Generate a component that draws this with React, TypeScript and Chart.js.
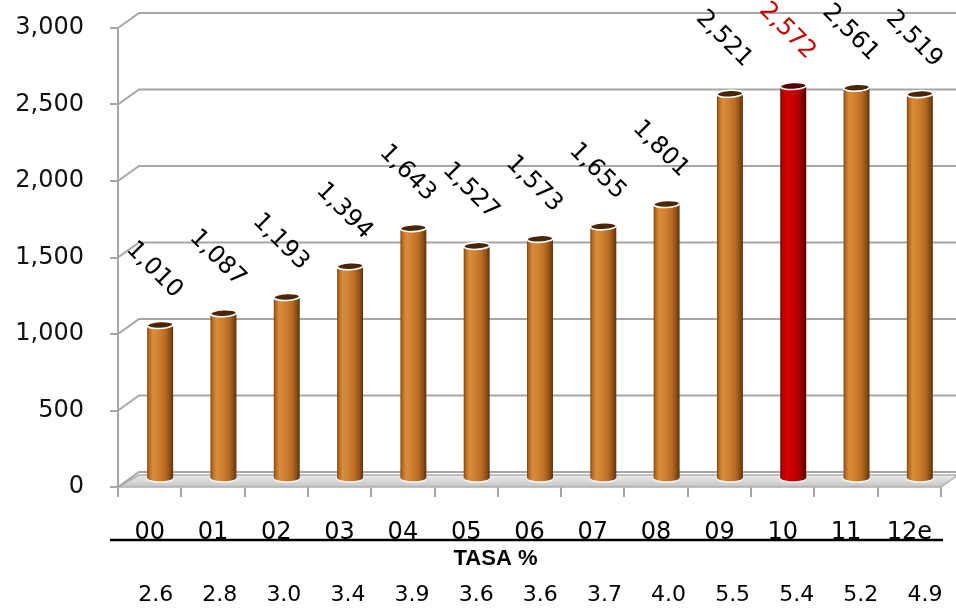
import { useEffect, useRef } from "react";
import { Chart, registerables } from "chart.js";

Chart.register(...registerables);

const categories = ["00", "01", "02", "03", "04", "05", "06", "07", "08", "09", "10", "11", "12e"];
const values = [1010, 1087, 1193, 1394, 1643, 1527, 1573, 1655, 1801, 2521, 2572, 2561, 2519];
const rates = ["2.6", "2.8", "3.0", "3.4", "3.9", "3.6", "3.6", "3.7", "4.0", "5.5", "5.4", "5.2", "4.9"];
const yMin = 0;
const yMax = 3000;
const yStep = 500;
const highlightCategory = "10";
const rateTitle = "TASA %";

const FONT = "'DejaVu Sans', sans-serif";
const DX = 21;
const DY = -15;

function fmt(v: number) {
  return v.toLocaleString("en-US");
}

const threeD = {
  id: "threeD",
  beforeDatasetsDraw(chart: any) {
    const { ctx, chartArea: a } = chart;
    const y = chart.scales.y;
    ctx.save();
    // floor
    const fb = a.bottom;
    const g = ctx.createLinearGradient(0, fb + DY, 0, fb);
    g.addColorStop(0, "#f6f6f6");
    g.addColorStop(0.45, "#e0e0e0");
    g.addColorStop(1, "#c4c4c4");
    ctx.beginPath();
    ctx.moveTo(a.left, fb);
    ctx.lineTo(a.right, fb);
    ctx.lineTo(a.right + DX - 4, fb + DY + 3);
    ctx.lineTo(a.left + DX, fb + DY + 3);
    ctx.closePath();
    ctx.fillStyle = g;
    ctx.fill();
    ctx.strokeStyle = "#b0b0b0";
    ctx.lineWidth = 1.5;
    ctx.stroke();
    // back grid lines with diagonal connectors
    ctx.strokeStyle = "#a6a6a6";
    ctx.lineWidth = 2;
    y.ticks.forEach((t: any) => {
      const py = y.getPixelForValue(t.value);
      ctx.beginPath();
      ctx.moveTo(a.left, py);
      ctx.lineTo(a.left + DX, py + DY);
      ctx.lineTo(chart.width, py + DY);
      ctx.stroke();
    });
    ctx.restore();
  },
  afterDatasetsDraw(chart: any) {
    const { ctx } = chart;
    const meta = chart.getDatasetMeta(0);
    ctx.save();
    meta.data.forEach((el: any, i: number) => {
      const { x, y, base, width } = el.getProps(["x", "y", "base", "width"], true);
      const hi = categories[i] === highlightCategory;
      const cx = x + DX / 2;
      const top = y + DY / 2;
      const bottom = base + DY / 2;
      const rx = width / 2;
      const ry = 3.5;
      const g = ctx.createLinearGradient(cx - rx, 0, cx + rx, 0);
      if (hi) {
        g.addColorStop(0, "#780000");
        g.addColorStop(0.08, "#b00000");
        g.addColorStop(0.22, "#d40000");
        g.addColorStop(0.45, "#c80000");
        g.addColorStop(0.7, "#b40000");
        g.addColorStop(0.88, "#820000");
        g.addColorStop(1, "#4e0000");
      } else {
        g.addColorStop(0, "#7a4512");
        g.addColorStop(0.08, "#b86a22");
        g.addColorStop(0.22, "#d98c3c");
        g.addColorStop(0.45, "#cf7f30");
        g.addColorStop(0.7, "#b86b23");
        g.addColorStop(0.88, "#8a4e16");
        g.addColorStop(1, "#5a320c");
      }
      ctx.beginPath();
      ctx.moveTo(cx - rx, top);
      ctx.lineTo(cx - rx, bottom);
      ctx.ellipse(cx, bottom, rx, ry, 0, Math.PI, 0, true);
      ctx.lineTo(cx + rx, top);
      ctx.ellipse(cx, top, rx, ry, 0, 0, Math.PI, true);
      ctx.closePath();
      ctx.fillStyle = g;
      ctx.fill();
      // bottom rim
      ctx.beginPath();
      ctx.ellipse(cx, bottom, rx, ry, 0, Math.PI, 0, true);
      ctx.strokeStyle = "rgba(255,255,255,0.9)";
      ctx.lineWidth = 1.5;
      ctx.stroke();
      // top cap
      ctx.beginPath();
      ctx.ellipse(cx, top, rx, ry, -0.05, 0, Math.PI * 2);
      ctx.fillStyle = hi ? "#520000" : "#4a2608";
      ctx.fill();
      ctx.strokeStyle = "#ffffff";
      ctx.lineWidth = 1.6;
      ctx.stroke();
      // value label
      ctx.save();
      ctx.translate(cx - 6, top - 55);
      ctx.rotate(Math.PI / 4);
      ctx.font = `24px ${FONT}`;
      ctx.fillStyle = hi ? "#c00000" : "#000000";
      ctx.textAlign = "center";
      ctx.textBaseline = "middle";
      ctx.fillText(fmt(values[i]), 0, 0);
      ctx.restore();
    });
    ctx.restore();
  },
  afterDraw(chart: any) {
    const { ctx, chartArea: a } = chart;
    const x = chart.scales.x;
    ctx.save();
    ctx.strokeStyle = "#000";
    ctx.lineWidth = 2.5;
    ctx.beginPath();
    ctx.moveTo(a.left - 8, 540);
    ctx.lineTo(a.right + 2, 540);
    ctx.stroke();
    ctx.fillStyle = "#000";
    ctx.textAlign = "center";
    ctx.textBaseline = "middle";
    ctx.font = `bold 22px 'Liberation Sans', Arial, sans-serif`;
    ctx.fillText(rateTitle, (a.left + a.right) / 2 - 34, 559);
    ctx.font = `22px ${FONT}`;
    rates.forEach((r, i) => {
      ctx.fillText(r, x.getPixelForValue(i) + 6 + i * 0.8, 595);
    });
    ctx.restore();
  },
};

export default function App() {
  const ref = useRef<HTMLCanvasElement | null>(null);
  useEffect(() => {
    document.body.style.margin = "0";
    const canvas = ref.current;
    if (!canvas) return;
    const chart = new Chart(canvas, {
      type: "bar",
      data: {
        labels: categories,
        datasets: [
          {
            data: values,
            backgroundColor: "rgba(0,0,0,0)",
            borderWidth: 0,
            barPercentage: 0.41,
            categoryPercentage: 1,
          },
        ],
      },
      options: {
        responsive: false,
        animation: false,
        devicePixelRatio: 1,
        layout: { padding: { top: 28, right: 15, left: 0, bottom: 0 } },
        plugins: { legend: { display: false }, tooltip: { enabled: false } },
        scales: {
          x: {
            afterFit: (s: any) => {
              s.height = 124;
            },
            grid: {
              display: true,
              drawOnChartArea: false,
              tickLength: 10,
              color: "#a6a6a6",
              lineWidth: 2,
              offset: true,
            },
            border: { display: false },
            ticks: {
              padding: 21,
              color: "#000",
              font: { family: FONT, size: 24 },
              maxRotation: 0,
              autoSkip: false,
            },
          },
          y: {
            min: yMin,
            max: yMax,
            afterFit: (s: any) => {
              s.width = 118;
              s.paddingTop = 12;
              s.paddingBottom = 12;
            },
            grid: {
              display: true,
              drawOnChartArea: false,
              tickLength: 8,
              color: "#a6a6a6",
              lineWidth: 2,
            },
            border: { display: true, color: "#a6a6a6", width: 2 },
            ticks: {
              stepSize: yStep,
              padding: 26,
              color: "#111",
              font: { family: FONT, size: 24 },
              callback: (v: any) => fmt(Number(v)),
            },
          },
        },
      },
      plugins: [threeD],
    });
    return () => chart.destroy();
  }, []);
  return (
    <div style={{ width: 956, height: 611 }}>
      <canvas ref={ref} width={956} height={611} style={{ display: "block" }} />
    </div>
  );
}
